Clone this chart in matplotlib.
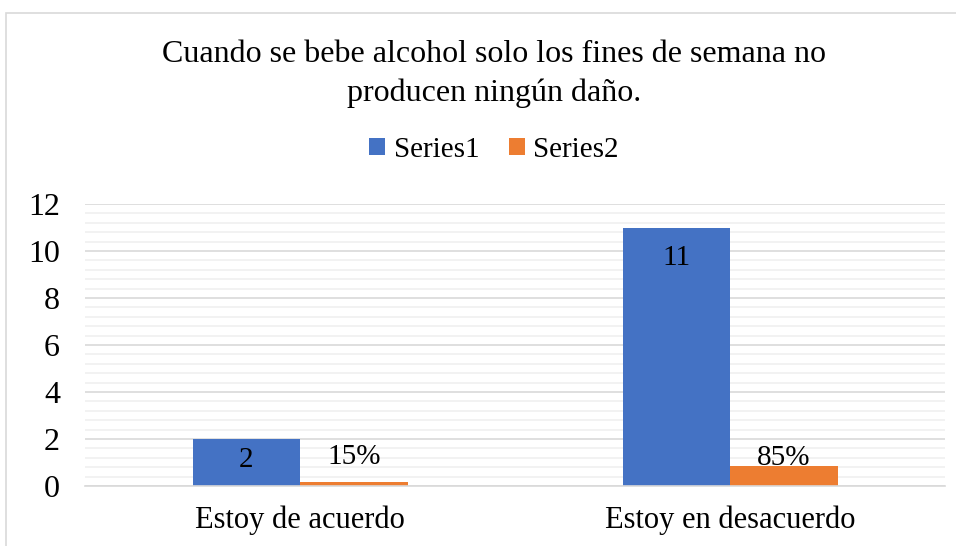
import matplotlib.pyplot as plt
import numpy as np
from matplotlib.patches import Rectangle
from matplotlib.ticker import MultipleLocator

categories = ['Estoy de acuerdo', 'Estoy en desacuerdo']
series1 = [2, 11]
series2 = [0.15, 0.85]
labels1 = ['2', '11']
labels2 = ['15%', '85%']

plt.rcParams['font.family'] = ['Liberation Serif', 'DejaVu Serif']

fig = plt.figure(figsize=(9.56, 5.46), dpi=100)
fig.patches.append(Rectangle((6 / 956, -0.1), 1.2, 1 - 13 / 546 + 0.1, transform=fig.transFigure,
                             fill=False, edgecolor='#d9d9d9', linewidth=1.2))

ax = fig.add_axes([85 / 956, 1 - 486 / 546, 860 / 956, 282 / 546])
x = np.arange(len(categories))
w = 0.25
b1 = ax.bar(x - w / 2, series1, w, color='#4472c4', label='Series1', zorder=3)
b2 = ax.bar(x + w / 2, series2, w, color='#ed7d31', label='Series2', zorder=3)

ax.set_xlim(-0.5, 1.5)
ax.set_ylim(0, 12)
ax.yaxis.set_major_locator(MultipleLocator(2))
ax.yaxis.set_minor_locator(MultipleLocator(0.4))
ax.grid(axis='y', which='major', color='#d9d9d9', linewidth=1.2, zorder=0)
ax.grid(axis='y', which='minor', color='#f0f0f0', linewidth=1.2, zorder=0)
ax.set_xticks(x)
ax.set_xticklabels(categories, fontsize=22)
ax.tick_params(axis='y', which='both', length=0, labelsize=23, pad=18)
ax.tick_params(axis='x', length=0, pad=14)
for s in ['top', 'right', 'left']:
    ax.spines[s].set_visible(False)
ax.spines['bottom'].set_color('#d9d9d9')
ax.spines['bottom'].set_linewidth(1.2)
ax.spines['bottom'].set_zorder(4)

# data labels
ax.annotate(labels1[0], (x[0] - w / 2, series1[0] / 2), xytext=(0, 2), textcoords='offset points',
            ha='center', va='center', fontsize=21)
ax.annotate(labels1[1], (x[1] - w / 2, series1[1]), xytext=(0, -22), textcoords='offset points',
            ha='center', va='center', fontsize=21)
ax.annotate(labels2[0], (x[0] + w / 2, series2[0]), xytext=(0, 18), textcoords='offset points',
            ha='center', va='center', fontsize=21)
ax.annotate(labels2[1], (x[1] + w / 2, series2[1]), xytext=(0, 6), textcoords='offset points',
            ha='center', va='center', fontsize=21, zorder=5)

cx = 494 / 956
fig.text(cx, 1 - 55 / 546, 'Cuando se bebe alcohol solo los fines de semana no',
         ha='center', va='center', fontsize=23)
fig.text(cx, 1 - 93 / 546, 'producen ningún daño.', ha='center', va='center', fontsize=23)

fig.legend(handles=[b1, b2], loc='center', bbox_to_anchor=(cx, 1 - 150 / 546), ncol=2,
           frameon=False, fontsize=21, handlelength=0.55, handleheight=0.55,
           handletextpad=0.3, columnspacing=1.0)

fig.savefig('out.png', dpi=100)
